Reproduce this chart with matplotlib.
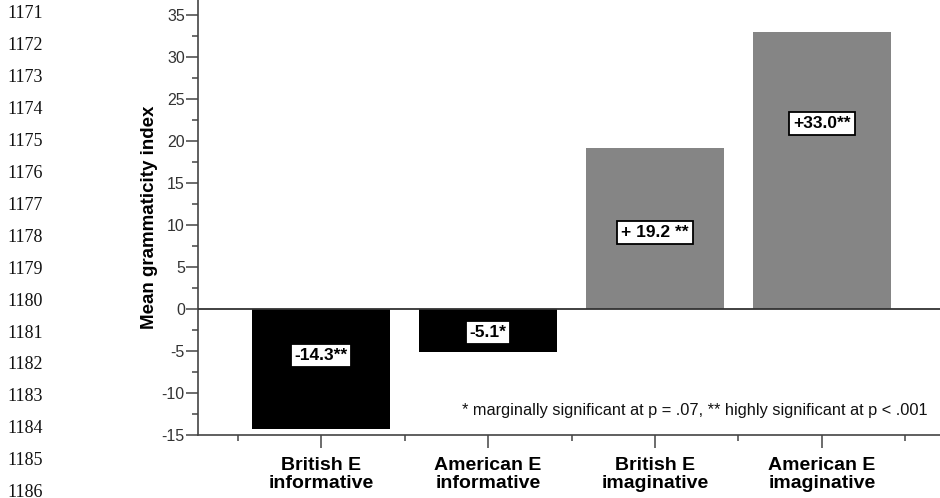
import matplotlib
matplotlib.use("Agg")
import matplotlib.pyplot as plt
from matplotlib.ticker import MultipleLocator, FixedLocator

# ---- data ----
categories = ["British E\ninformative", "American E\ninformative",
              "British E\nimaginative", "American E\nimaginative"]
values = [-14.3, -5.1, 19.2, 33.0]
value_labels = ["-14.3**", "-5.1*", "+ 19.2 **", "+33.0**"]
label_y = [-5.5, -2.8, 9.1, 22.1]
bar_colors = ["#000000", "#000000", "#858585", "#858585"]
footnote = "* marginally significant at p = .07, ** highly significant at p < .001"
ylabel = "Mean grammaticity index"
line_numbers = [str(n) for n in range(1171, 1187)]

W, H = 940, 498
fig = plt.figure(figsize=(W / 100, H / 100), dpi=100)
plt.rcParams['font.family'] = ['Liberation Sans', 'DejaVu Sans']
plt.rcParams['axes.unicode_minus'] = False

ax = fig.add_axes([198 / W, 1 - 435 / H, (W - 198) / W, 435 / H])
x = list(range(len(values)))
ax.bar(x, values, width=0.83, color=bar_colors, edgecolor='none', zorder=2)
ax.axhline(0, color='#333333', lw=1.3, zorder=3)

ax.set_xlim(-0.737, 3.707)
ax.set_ylim(-15, 36.8)

for s in ['top', 'right']:
    ax.spines[s].set_visible(False)
for s in ['left', 'bottom']:
    ax.spines[s].set_color('#444444')
    ax.spines[s].set_linewidth(1.2)

ax.yaxis.set_major_locator(MultipleLocator(5))
ax.yaxis.set_minor_locator(MultipleLocator(2.5))
ax.set_xticks(x)
ax.set_xticklabels(categories, fontsize=14, fontweight='bold', linespacing=1.13)
ax.xaxis.set_minor_locator(FixedLocator([i + 0.5 for i in range(-1, len(values))]))

ax.tick_params(axis='y', which='major', length=9, width=1.1, color='#444444',
               labelsize=11.5, labelcolor='#333333', pad=0.5)
ax.tick_params(axis='y', which='minor', length=4.5, width=1.1, color='#444444')
ax.tick_params(axis='x', which='major', length=9, width=1.1, color='#444444', pad=6.5)
ax.tick_params(axis='x', which='minor', length=4.5, width=1.1, color='#444444')

ax.set_ylabel(ylabel, fontsize=13.5, fontweight='bold')
ax.yaxis.set_label_coords((158 - 198) / (W - 198), 0.5)

for xi, lab, ly in zip(x, value_labels, label_y):
    ax.text(xi, ly, lab, ha='center', va='center', fontsize=12.5, fontweight='bold',
            color='black', zorder=4,
            bbox=dict(boxstyle='square,pad=0.22', facecolor='white',
                      edgecolor='black', linewidth=1.3))

ax.text(927 / W, 1 - 410 / H, footnote, transform=fig.transFigure,
        ha='right', va='center', fontsize=11.75, color='#111111')

for i, ln in enumerate(line_numbers):
    fig.text(7 / W, 1 - (14 + 31.9 * i) / H, ln, ha='left', va='center',
             fontsize=13, family=['Liberation Serif', 'DejaVu Serif'], color='#111111')

fig.savefig("out.png", dpi=100)
